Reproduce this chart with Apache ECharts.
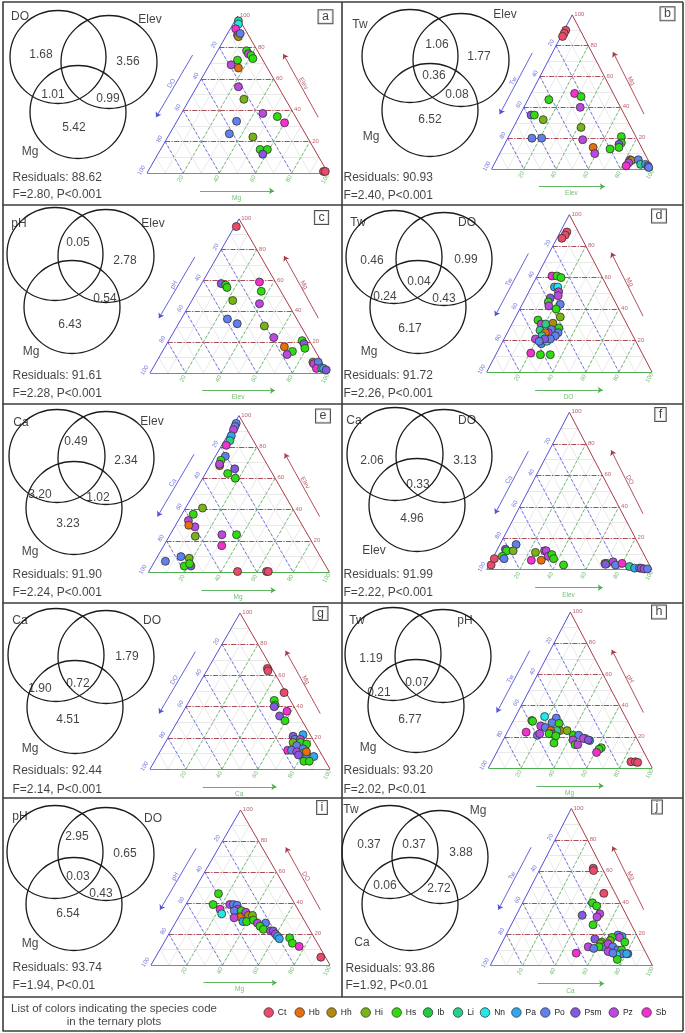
<!DOCTYPE html>
<html><head><meta charset="utf-8">
<script src="https://cdn.jsdelivr.net/npm/echarts/dist/echarts.min.js"></script>
<style>html,body{margin:0;padding:0;background:#fff}#c{width:685px;height:1033px}</style>
</head><body><div id="c"></div>
<script>
// ---------------- DATA ----------------
const speciesCodes = ['Ct','Hb','Hh','Hi','Hs','Ib','Li','Nn','Pa','Po','Psm','Pz','Sb'];
const panelLetters = ['a','b','c','d','e','f','g','h','i','j'];
const vennSets = [['DO','Elev','Mg'],['Tw','Elev','Mg'],['pH','Elev','Mg'],['Tw','DO','Mg'],['Ca','Elev','Mg'],
                  ['Ca','DO','Elev'],['Ca','DO','Mg'],['Tw','pH','Mg'],['pH','DO','Mg'],['Tw','Mg','Ca']];
const vennA = [1.68,3.56,1.01,0.99,5.42];
const vennB = [1.06,1.77,0.36,0.08,6.52];
const vennC = [0.05,2.78,0.54,6.43];
const vennD = [0.46,0.99,0.04,0.24,0.43,6.17];
const vennE = [0.49,2.34,3.20,1.02,3.23];
const vennF = [2.06,3.13,0.33,4.96];
const vennG = [1.79,0.72,1.90,4.51];
const vennH = [1.19,0.07,0.21,6.77];
const vennI = [2.95,0.65,0.03,0.43,6.54];
const vennJ = [0.37,0.37,3.88,0.06,2.72];
const residuals = [88.62,90.93,91.61,91.72,91.90,91.99,92.44,93.20,93.74,93.86];
const fValues = [2.80,2.40,2.28,2.26,2.24,2.22,2.14,2.02,1.94,1.92];
const pValues = ['P<0.001','P<0.001','P<0.001','P<0.001','P<0.001','P<0.001','P<0.001','P<0.01','P<0.01','P<0.01'];
// ternary axes: [left, bottom, right]
const ternAxes = [['DO','Mg','Elev'],['Tw','Elev','Mg'],['pH','Elev','Mg'],['Tw','DO','Mg'],['Ca','Mg','Elev'],
                  ['Ca','Elev','DO'],['DO','Ca','Mg'],['Tw','Mg','pH'],['pH','Mg','DO'],['Tw','Ca','Mg']];
const ternTicks = [20,40,60,80,100];
const ternFine = [10,20,30,40,50,60,70,80,90];
// points: [right-axis %, bottom-axis %, species]
const ternA = [[97,2,'Li'],[95,3,'Nn'],[92,3,'Sb'],[88,6,'Pz'],[87,7,'Hh'],[89,7,'Po'],
 [78,16,'Hs'],[76,18,'Pz'],[75,20,'Hs'],[73,22,'Hs'],[72,14,'Hs'],[69,12,'Pz'],[67,17,'Hb'],
 [55,23,'Pz'],[47,30,'Hi'],[38,45,'Pz'],[36,54,'Hs'],[32,60,'Sb'],[33,33,'Po'],[25,33,'Po'],[23,47,'Hi'],
 [15,55,'Hs'],[15,59,'Hs'],[12,58,'Psm'],[1,97,'Ct'],[1,98,'Ct']];
const ternB = [[90,1,'Ct'],[88,1,'Ct'],[86,1,'Ct'],[49,27,'Sb'],[47,32,'Hs'],[45,13,'Hs'],[40,35,'Pz'],
 [35,7,'Psm'],[35,9,'Hs'],[32,16,'Hi'],[27,42,'Hi'],[20,15,'Po'],[20,21,'Po'],[19,47,'Pz'],
 [21,70,'Hs'],[17,72,'Hs'],[16,71,'Psm'],[14,72,'Hs'],[14,56,'Hb'],[10,59,'Pz'],[13,67,'Hs'],
 [6,83,'Psm'],[5.5,84,'Hh'],[4,83,'Pz'],[2,82.5,'Sb'],[6,88,'Po'],[3,91,'Li'],[3,94,'Pa'],[2,96,'Psm'],[1,97,'Po']];
const ternC = [[95,1,'Ct'],[58,11,'Psm'],[57,14,'Hs'],[55.5,15.5,'Hs'],[59,32,'Sb'],[53,36,'Hs'],
 [47,23,'Hi'],[45,39,'Pz'],[35,26,'Po'],[32,33,'Po'],[30.5,49,'Hi'],[23,58,'Pz'],
 [21,75,'Hs'],[19,77,'Psm'],[16,79,'Hs'],[17,67,'Hb'],[14,73,'Hs'],[12,71,'Pz'],
 [7,88,'Hh'],[6,89,'Pz'],[7,91,'Po'],[3,92,'Sb'],[3,95,'Li'],[3,96,'Pa'],[2,98,'Psm']];
const ternD = [[89,4,'Ct'],[87,4,'Ct'],[85,3,'Ct'],[61,9,'Sb'],[61,12,'Hs'],[60,15,'Hs'],
 [54,14,'Pa'],[54,16,'Nn'],[51,18,'Pz'],[48.5,19,'Pz'],[47,15,'Psm'],[44.5,15,'Hs'],[42,16.6,'Pz'],[43,23,'Po'],[40,22,'Hs'],
 [35,27,'Hi'],[33,14.5,'Hs'],[30.5,17.7,'Pz'],[30.5,20.5,'Li'],[31,24.6,'Hh'],[28,29.7,'Hs'],
 [26.5,19,'Li'],[27,25.6,'Po'],[25,24.7,'Pz'],[25,23,'Hb'],[25,30.7,'Po'],[23,30,'Po'],[23,22,'Li'],
 [21,19,'Pz'],[18,24,'Po'],[19.5,26.6,'Nn'],[21,28,'Po'],[21,24.6,'Psm'],[19.5,22,'Po'],
 [12,20.7,'Sb'],[11,27,'Hs'],[11,33,'Hs']];
const ternE = [[95,1,'Po'],[93,1.3,'Po'],[91,1.5,'Pz'],[87,2.3,'Pa'],[84,3,'Li'],[81,2.5,'Sb'],
 [74,5.5,'Po'],[71.5,4.3,'Hs'],[68,5.4,'Hh'],[69,4.8,'Pz'],[66,14.7,'Psm'],[63,12.3,'Hs'],[60,18,'Hs'],
 [41,9.4,'Hi'],[37,6.3,'Hs'],[33,5.6,'Pz'],[29,11.2,'Pz'],[30,7.3,'Hb'],[23,14.4,'Hi'],
 [24,28.6,'Pz'],[24,36.7,'Hs'],[17,32,'Sb'],[7,5.9,'Po'],[10,13,'Po'],[9,18,'Hi'],[4,21.5,'Psm'],[4,17.8,'Hs'],[5.5,20,'Hs'],
 [0.5,49,'Ct'],[0.5,65,'Ct'],[0.5,66,'Ct']];
const ternF = [[3,1.2,'Ct'],[7,1.1,'Ct'],[16,9.8,'Po'],[13,4.8,'Psm'],[12,6,'Hs'],[8.5,5.2,'Hs'],[7,7,'Po'],[12,10,'Hi'],
 [11,24,'Hi'],[12,29,'Pz'],[12,30,'Pz'],[8.5,33,'Pz'],[9.6,34.6,'Hs'],[7,37,'Hs'],[6,24,'Sb'],[6,30,'Hb'],[3,45,'Hs'],
 [4,69.5,'Hh'],[4,70.7,'Hs'],[3.4,70.2,'Psm'],[5,74,'Pz'],[3,76.4,'Po'],[4,79.9,'Sb'],[2,85.4,'Li'],[1,89,'Pa'],
 [1,92,'Po'],[1,93,'Psm'],[0.5,95,'Pz'],[0.5,97,'Po']];
const ternG = [[64.5,33,'Ct'],[63,34,'Ct'],[49,50,'Ct'],[44,47,'Hs'],[41,49,'Hs'],[40,49,'Psm'],[37,57.6,'Sb'],[34,55,'Psm'],[31,59.5,'Hs'],
 [21,69,'Psm'],[19,71,'Po'],[22,74,'Pa'],[19,74,'Pz'],[17,75,'Hs'],[17,71,'Hi'],[16,79,'Hs'],[15,74,'Po'],[13,78.5,'Po'],
 [12,70.5,'Sb'],[12,72.6,'Po'],[11,76,'Pz'],[10,80,'Hs'],[9,82.5,'Po'],[8,87,'Pa'],[5,83,'Hs'],[5,86,'Hs'],[11,81.4,'Hb'],[9,78,'Psm']];
const ternH = [[33,17.8,'Nn'],[30.5,11.2,'Hs'],[30,12,'Hs'],[32,25.4,'Po'],[27,18.4,'Pz'],[26,21.7,'Po'],[29,24.3,'Po'],[28.6,28.8,'Hs'],
 [24,31.7,'Hh'],[24,29.7,'Li'],[24,26,'Hb'],[23,11.5,'Sb'],[21,19.4,'Po'],[22,20.3,'Pz'],[22,27.4,'Pz'],[22,26,'Hs'],[20.6,30.8,'Hs'],
 [16,32,'Hs'],[24,36,'Hi'],[21,41.3,'Hs'],[21,44.6,'Po'],[18,42.6,'Pz'],[15,45.4,'Hs'],[15,47,'Pz'],[19,49.4,'Po'],[19,48.5,'Pz'],
 [17.6,53,'Pa'],[18,52,'Psm'],[13,62.4,'Hs'],[12,61.5,'Hs'],[10,61,'Sb'],[4,85,'Ct'],[4,87.7,'Ct'],[3.6,89.3,'Ct']];
const ternI = [[46,14.7,'Hs'],[39,15.2,'Hs'],[36,20.6,'Sb'],[33,23,'Nn'],[39,24.5,'Pz'],[39,26.5,'Po'],[38.5,28.8,'Po'],[36,30.6,'Pz'],
 [35,29,'Po'],[35,33,'Hs'],[31,34.5,'Hb'],[34,36,'Pz'],[32,38.4,'Hh'],[32,40.7,'Hi'],[30.5,31.2,'Pz'],[28,37.4,'Pa'],[28,39.4,'Hs'],
 [29,42.7,'Hs'],[27,46,'Pz'],[27,50.5,'Po'],[25,48.4,'Hs'],[23,51.3,'Hs'],[22,55.8,'Pz'],[22,57.3,'Psm'],[20,59.5,'Pz'],
 [18.5,61.4,'Pa'],[17,63.2,'Pa'],[17.5,68.7,'Hs'],[14,72,'Hs'],[12,76.8,'Sb'],[5,92.4,'Ct']];
const ternJ = [[62,32.5,'Ct'],[60.5,33.4,'Ct'],[46,47,'Ct'],[40,43,'Hs'],[38,46.6,'Hs'],[33,51,'Pz'],[32,40.7,'Psm'],[31,50.3,'Pz'],[26,50.4,'Hs'],
 [19.5,69,'Po'],[18.5,72,'Pa'],[18,70.7,'Pz'],[18,66,'Hs'],[16,66,'Hi'],[17,56,'Psm'],[15,61.3,'Hs'],[14,61,'Hi'],[15,75.4,'Hs'],
 [12,63.4,'Po'],[14,65.6,'Pz'],[12,61,'Hs'],[12,54.4,'Pz'],[11,58.3,'Po'],[12,69.5,'Po'],[10,73.4,'Po'],[9,68.2,'Pz'],[10,76,'Hs'],
 [7.6,77.4,'Po'],[7.6,81,'Po'],[7,74.3,'Nn'],[4,76.3,'Hs'],[7.6,80.2,'Pa'],[8,49,'Sb'],[8,71.6,'Po']];

// ---------------- STYLE / LAYOUT ----------------
const speciesColors = ['#EC4A6A','#E8700A','#B08A08','#78B414','#2EDC10','#22CC40','#28D08A','#22E8E8','#30A8F0','#6080F0','#8458E0','#BC48E0','#F430D0'];
const vennValues = [vennA,vennB,vennC,vennD,vennE,vennF,vennG,vennH,vennI,vennJ];
const ternData = [ternA,ternB,ternC,ternD,ternE,ternF,ternG,ternH,ternI,ternJ];
const layout = [
 {tri:[147,173,181], circles:[[58,57],[109,62],[78,112]], names:[[20,17],[150,20],[30,152]], vals:[[41,55],[128,62],[53,95],[108,99],[74,128]], stats:[12,178,195], letter:[325.5,16.7]},
 {tri:[495,169,178], circles:[[410,56],[461,60],[430,110]], names:[[360,25],[505,15],[371,137]], vals:[[437,45],[479,57],[434,76],[457,95],[430,120]], stats:[343,178,196], letter:[667.5,13.8]},
 {tri:[150,373,178], circles:[[55,254],[106,256],[72,307]], names:[[19,224],[153,224],[31,352]], vals:[[78,243],[125,261],[105,299],[70,325]], stats:[12,376,394], letter:[321.5,217.5]},
 {tri:[490,372,181.7], circles:[[394,257],[444,259],[418,307]], names:[[358,223],[467,223],[369,352]], vals:[[372,261],[466,260],[419,282],[385,297],[444,299],[410,329]], stats:[343,376,394], letter:[659,216]},
 {tri:[148.4,572.3,181], circles:[[57,456],[106,458],[74,508]], names:[[21,423],[152,422],[30,552]], vals:[[76,442],[126,461],[40,495],[98,498],[68,524]], stats:[12,575,593], letter:[323,416]},
 {tri:[490,569.7,181.7], circles:[[395,454],[444,456],[417,505]], names:[[354,421],[467,421],[374,551]], vals:[[372,461],[465,461],[418,485],[412,519]], stats:[343,575,593], letter:[660.5,414.5]},
 {tri:[150,769,180], circles:[[56,655],[106,657],[75,707]], names:[[20,621],[152,621],[30,749]], vals:[[127,657],[78,684],[40,689],[68,720]], stats:[12,771,790], letter:[320.5,613.5]},
 {tri:[491.7,768,180], circles:[[393,654],[443,656],[416,706]], names:[[357,621],[465,621],[368,748]], vals:[[371,659],[417,683],[379,693],[410,720]], stats:[343,771,790], letter:[659,612]},
 {tri:[151,965,179], circles:[[55,852],[106,854],[74,904]], names:[[20,817],[153,819],[30,944]], vals:[[77,837],[125,854],[78,877],[101,894],[68,914]], stats:[12,968,986], letter:[322,807.5]},
 {tri:[494,965.7,181.6], circles:[[390,852],[440,857],[410,904]], names:[[351,810],[478,811],[362,943]], vals:[[369,845],[414,845],[461,853],[385,886],[439,889]], stats:[345,969,986], letter:[657,807]}
];
const legendX = [268.7,299.7,331.6,365.7,396.7,428,458,485,516.4,545.3,575.4,613.8,646.6];
const legendY = 1012.5;
const FONT = 'Liberation Sans, Arial, sans-serif';
const BLUE = '#5050D8', GREEN = '#4FAE4F', RED = '#A83A48', FINE = '#DADADA';

// ---------------- BUILD ----------------
const S3 = Math.sqrt(3) / 2;
const tp = (r, g) => [g + r / 2, r * S3];
const colorOf = sp => speciesColors[speciesCodes.indexOf(sp)];

const grids = [{left:0, top:0, width:685, height:1033}];
const xAxes = [{type:'value', gridIndex:0, min:0, max:685, show:false}];
const yAxes = [{type:'value', gridIndex:0, min:0, max:1033, inverse:true, show:false}];
const series = [];

function txt(gi, pts, label, z) {
  return {type:'scatter', xAxisIndex:gi, yAxisIndex:gi, symbolSize:1, silent:true, z:z||5,
    itemStyle:{color:'rgba(0,0,0,0)'}, emphasis:{disabled:true},
    data: pts.map(p => ({name:String(p[2]), value:[p[0], p[1]]})),
    label: Object.assign({show:true, formatter: p => p.name, position:'inside', color:'#111', fontSize:12, fontFamily:FONT}, label)};
}
function segs(gi, list, lineStyle, extra) {
  return Object.assign({type:'lines', coordinateSystem:'cartesian2d', xAxisIndex:gi, yAxisIndex:gi, silent:true,
    symbol:'none', lineStyle:Object.assign({opacity:1, curveness:0}, lineStyle),
    data: list.map(c => ({coords:c}))}, extra || {});
}

// panel borders
const borderSegs = [
  [[2.5,2],[683,2]],[[683,2],[683,1031]],[[683,1031],[2.5,1031]],[[2.5,1031],[2.5,2]],
  [[2.5,205],[683,205]],[[2.5,404],[683,404]],[[2.5,603],[683,603]],[[2.5,798],[683,798]],[[2.5,997],[683,997]],
  [[341.5,2],[341.5,997]]
];
series.push(segs(0, borderSegs, {color:'#3c3c3c', width:1.6}));

panelLetters.forEach((letter, i) => {
  const L = layout[i];
  // Venn circles
  series.push({type:'scatter', xAxisIndex:0, yAxisIndex:0, silent:true, symbol:'circle', symbolSize:[96,93], z:3,
    itemStyle:{color:'rgba(0,0,0,0)', borderColor:'#1c1c1c', borderWidth:1.3, opacity:1}, emphasis:{disabled:true},
    data: L.circles.map(c => [c[0], c[1]])});
  series.push(txt(0, vennSets[i].map((n, k) => [L.names[k][0], L.names[k][1], n]), {}));
  series.push(txt(0, vennValues[i].map((v, k) => [L.vals[k][0], L.vals[k][1], v.toFixed(2)]), {}));
  series.push(txt(0, [[L.stats[0], L.stats[1], 'Residuals: ' + residuals[i].toFixed(2)],
                      [L.stats[0], L.stats[2], 'F=' + fValues[i].toFixed(2) + ', ' + pValues[i]]],
                  {position:'right', distance:0}));
  series.push(txt(0, [[L.letter[0], L.letter[1], letter]],
                  {fontSize:12.5, backgroundColor:'#fff', borderColor:'#222', borderWidth:1, padding:[0,3.5,1,3.5], lineHeight:12}));

  // Ternary grid
  const gi = i + 1;
  const [bx, by, W] = L.tri;
  const s = W / 100;
  grids.push({left:bx - 20 * s, top:by - 92 * s, width:140 * s, height:108 * s});
  xAxes.push({type:'value', gridIndex:gi, min:-20, max:120, show:false});
  yAxes.push({type:'value', gridIndex:gi, min:-16, max:92, show:false});

  const fine = [];
  ternFine.forEach(v => {
    fine.push([tp(v, 0), tp(v, 100 - v)]);
    fine.push([tp(100 - v, 0), tp(0, 100 - v)]);
    fine.push([tp(0, v), tp(100 - v, v)]);
  });
  series.push(segs(gi, fine, {color:FINE, width:0.6}, {z:1}));
  const major = ternTicks.filter(v => v < 100);
  series.push(segs(gi, major.map(v => [tp(v, 0), tp(v, 100 - v)]), {color:RED, width:0.9, type:[5,1.5,1.2,1.5]}, {z:2}));
  series.push(segs(gi, major.map(v => [tp(100 - v, 0), tp(0, 100 - v)]), {color:BLUE, width:0.8, type:[3,2]}, {z:2}));
  series.push(segs(gi, major.map(v => [tp(0, v), tp(100 - v, v)]), {color:GREEN, width:0.8, type:[3,2]}, {z:2}));
  // edges
  series.push(segs(gi, [[tp(0,0), tp(100,0)]], {color:BLUE, width:1}, {z:3}));
  series.push(segs(gi, [[tp(0,0), tp(0,100)]], {color:GREEN, width:1.2}, {z:3}));
  series.push(segs(gi, [[tp(0,100), tp(100,0)]], {color:RED, width:1}, {z:3}));
  // axis arrows
  series.push(segs(gi, [[[25.2,65.2],[5,30.8]]], {color:BLUE, width:0.9}, {symbol:['none','arrow'], symbolSize:5, z:3}));
  series.push(segs(gi, [[[94.6,30.8],[75.3,65.7]]], {color:RED, width:0.9}, {symbol:['none','arrow'], symbolSize:5, z:3}));
  series.push(segs(gi, [[[29.3,-9.9],[70.2,-9.9]]], {color:GREEN, width:0.9}, {symbol:['none','arrow'], symbolSize:5, z:3}));
  // tick labels
  series.push(txt(gi, ternTicks.map(b => { const p = tp(100 - b, 0); return [p[0] - 3, p[1] + 1.5, b]; }),
                  {fontSize:6, color:BLUE, rotate:60}));
  series.push(txt(gi, ternTicks.map(g => { const p = tp(0, g); return [p[0] - 1.5, p[1] - 3.2, g]; }),
                  {fontSize:6, color:GREEN, rotate:60}));
  series.push(txt(gi, ternTicks.map(r => { const p = tp(r, 100 - r); return [p[0] + 1, p[1] + 0.3, r]; }),
                  {fontSize:6, color:RED, position:'right', distance:0}));
  // axis titles
  series.push(txt(gi, [[13.5, 49.5, ternAxes[i][0]]], {fontSize:6.5, color:BLUE, rotate:60}));
  series.push(txt(gi, [[49.5, -13.8, ternAxes[i][1]]], {fontSize:6.5, color:GREEN}));
  series.push(txt(gi, [[86.5, 49.5, ternAxes[i][2]]], {fontSize:6.5, color:RED, rotate:-60}));
  // points
  series.push({type:'scatter', xAxisIndex:gi, yAxisIndex:gi, symbolSize:8, z:6, emphasis:{disabled:true},
    itemStyle:{borderColor:'#333', borderWidth:0.8, opacity:1},
    data: ternData[i].map(([r, g, sp]) => ({value:tp(r, g), itemStyle:{color:colorOf(sp), opacity:1}}))});
});

// legend row
series.push(txt(0, [[114, 1008.5, 'List of colors indicating the species code'], [114, 1021.5, 'in the ternary plots']],
                {fontSize:11.5}));
series.push({type:'scatter', xAxisIndex:0, yAxisIndex:0, symbolSize:9.5, z:6, silent:true, emphasis:{disabled:true},
  itemStyle:{borderColor:'#333', borderWidth:0.8, opacity:1},
  data: speciesCodes.map((c, k) => ({name:c, value:[legendX[k], legendY], itemStyle:{color:speciesColors[k], opacity:1}})),
  label:{show:true, position:'right', distance:4, formatter:p => p.name, fontSize:8.5, color:'#222', fontFamily:FONT}});

const chart = echarts.init(document.getElementById('c'), null, {renderer:'canvas'});
chart.setOption({animation:false, grid:grids, xAxis:xAxes, yAxis:yAxes, series:series});
</script></body></html>
